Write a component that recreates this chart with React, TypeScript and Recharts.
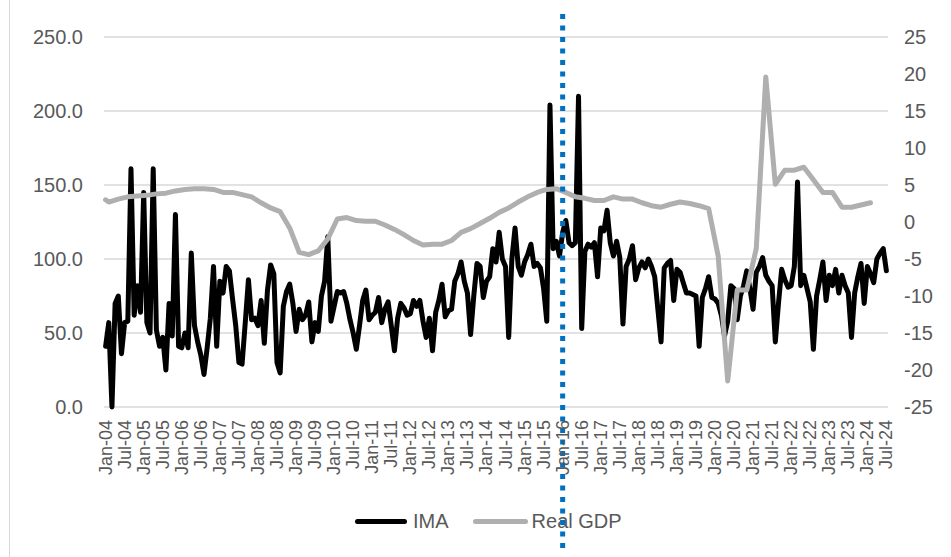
import { LineChart, Line, XAxis, YAxis, CartesianGrid, ReferenceLine } from "recharts";

// Monthly categories, Jan-04 .. Jul-24
const MONTH_NAMES = ["Jan", "Feb", "Mar", "Apr", "May", "Jun", "Jul", "Aug", "Sep", "Oct", "Nov", "Dec"];
const FIRST_YEAR = 4;
const MONTH_COUNT = 247;
const months = Array.from(
  { length: MONTH_COUNT },
  (_, i) => `${MONTH_NAMES[i % 12]}-${String(FIRST_YEAR + Math.floor(i / 12)).padStart(2, "0")}`
);

// IMA, monthly (left axis)
const ima = [
  41, 57, 0, 70, 75, 36, 57, 58, 161, 62,
  82, 64, 145, 57, 50, 161, 52, 41, 47, 25,
  70, 48, 130, 41, 40, 50, 40, 104, 55, 44,
  35, 22, 40, 60, 95, 41, 85, 77, 95, 92,
  73, 55, 30, 29, 57, 86, 59, 60, 55, 72,
  43, 79, 96, 90, 30, 23, 68, 78, 83, 70,
  51, 66, 59, 62, 71, 44, 57, 51, 75, 85,
  115, 58, 68, 78, 77, 78, 70, 59, 50, 39,
  55, 72, 79, 59, 62, 64, 74, 57, 66, 71,
  55, 38, 60, 70, 67, 62, 63, 72, 68, 72,
  58, 47, 60, 38, 64, 72, 83, 61, 65, 66,
  85, 90, 98, 85, 77, 49, 75, 97, 95, 74,
  85, 88, 107, 98, 118, 100, 95, 47, 100, 121,
  95, 89, 98, 103, 110, 95, 97, 94, 80, 58,
  204, 107, 112, 102, 118, 126, 111, 109, 111, 210,
  53, 105, 110, 108, 111, 88, 121, 119, 133, 111,
  102, 112, 101, 56, 95, 100, 109, 86, 94, 98,
  94, 100, 95, 88, 66, 44, 94, 97, 99, 72,
  93, 91, 84, 77, 77, 76, 75, 41, 74, 80,
  88, 74, 73, 70, 62, 48, 58, 82, 80, 59,
  75, 82, 92, 80, 66, 91, 95, 101, 89, 85,
  82, 44, 70, 93, 86, 81, 82, 95, 152, 82,
  89, 80, 71, 39, 75, 86, 98, 72, 89, 82,
  93, 77, 89, 82, 77, 47, 77, 88, 97, 70,
  95, 90, 84, 100, 104, 107, 92,
];

// Real GDP growth (right axis): Jan-04, then one value per quarter (Feb, May, Aug, Nov)
const gdpFirst = 3.0;
const gdpQuarterly = [
  2.7, 3.1, 3.4, 3.5, 3.6, 3.8, 3.9, 4.2, 4.4, 4.5,
  4.5, 4.4, 4.0, 4.0, 3.7, 3.4, 2.6, 1.9, 1.4, -0.8,
  -4.1, -4.4, -3.9, -2.3, 0.4, 0.6, 0.2, 0.1, 0.1, -0.4,
  -1.0, -1.7, -2.5, -3.1, -3.0, -3.0, -2.5, -1.4, -0.9, -0.2,
  0.5, 1.3, 1.9, 2.7, 3.4, 4.0, 4.4, 4.5, 4.0, 3.4,
  3.2, 2.9, 2.9, 3.4, 3.1, 3.1, 2.6, 2.2, 2.0, 2.4,
  2.7, 2.5, 2.2, 1.8, -4.6, -21.5, -9.2, -9.2, -3.6, 19.6,
  5.1, 7.0, 7.0, 7.4, 5.7, 4.0, 4.0, 2.0, 2.0, 2.3,
  2.6,
];

const leftTicks = [0, 50, 100, 150, 200, 250];
const rightTicks = [-25, -20, -15, -10, -5, 0, 5, 10, 15, 20, 25];
const markerMonth = "Jan-16";

const data = months.map((month, i) => {
  let gdp: number | null = null;
  if (i === 0) gdp = gdpFirst;
  else if ((i - 1) % 3 === 0 && gdpQuarterly[(i - 1) / 3] !== undefined) gdp = gdpQuarterly[(i - 1) / 3];
  return { month, ima: ima[i], gdp };
});

const FONT = "'Liberation Sans', Arial, sans-serif";
const TEXT = "#595959";

function MonthTick({ x, y, payload }: { x?: number; y?: number; payload?: { value: string } }) {
  return (
    <text
      x={x}
      y={y}
      transform={`rotate(-90, ${x}, ${y})`}
      textAnchor="end"
      dominantBaseline="central"
      fontSize={18}
      fontFamily={FONT}
      fill={TEXT}
    >
      {payload?.value}
    </text>
  );
}

// dotted marker runs past the plot area, over the axis labels and legend
function DottedMarker(props: any) {
  const top = Math.min(props.y1, props.y2);
  const bottom = Math.max(props.y1, props.y2);
  return (
    <line
      x1={props.x1}
      x2={props.x2}
      y1={top - 23}
      y2={bottom + 146}
      stroke="#0070C0"
      strokeWidth={5}
      strokeDasharray="5 6.5"
    />
  );
}

export default function App() {
  return (
    <div style={{ position: "absolute", left: 0, top: 0, width: 951, height: 557, background: "#fff" }}>
      <div style={{ position: "absolute", left: 9, top: 0, width: 1, height: 557, background: "#d9d9d9" }} />

      {/* Legend, under the chart svg so the marker draws over it */}
      <div
        style={{
          position: "absolute",
          left: 355,
          top: 510,
          display: "flex",
          alignItems: "center",
          fontFamily: FONT,
          fontSize: 20,
          color: TEXT,
        }}
      >
        <span style={{ display: "inline-block", width: 52, height: 5, background: "#000", borderRadius: 3 }} />
        <span style={{ marginLeft: 6 }}>IMA</span>
        <span
          style={{ display: "inline-block", width: 55, height: 5, background: "#afafaf", borderRadius: 3, marginLeft: 24 }}
        />
        <span style={{ marginLeft: 4 }}>Real GDP</span>
      </div>

      <div style={{ position: "absolute", left: 0, top: 0 }}>
        <LineChart width={951} height={557} data={data} margin={{ top: 37, right: 0, bottom: 0, left: 0 }}>
          <CartesianGrid yAxisId="left" vertical={false} stroke="#d9d9d9" strokeWidth={1.5} />
          <XAxis
            dataKey="month"
            interval={5}
            height={150}
            tick={<MonthTick />}
            tickSize={0}
            tickMargin={13}
            tickLine={false}
            axisLine={false}
            padding={{ left: 1.6, right: 1.6 }}
          />
          <YAxis
            yAxisId="left"
            width={104}
            domain={[0, 250]}
            ticks={leftTicks}
            tickFormatter={(v: number) => v.toFixed(1)}
            tick={{ fill: TEXT, fontSize: 20, fontFamily: FONT }}
            tickSize={0}
            tickMargin={21}
            tickLine={false}
            axisLine={false}
          />
          <YAxis
            yAxisId="right"
            orientation="right"
            width={63}
            domain={[-25, 25]}
            ticks={rightTicks}
            tick={{ fill: TEXT, fontSize: 20, fontFamily: FONT }}
            tickSize={0}
            tickMargin={16}
            tickLine={false}
            axisLine={false}
          />
          <Line
            yAxisId="left"
            dataKey="ima"
            type="linear"
            stroke="#000"
            strokeWidth={5}
            strokeLinejoin="round"
            strokeLinecap="round"
            dot={false}
            activeDot={false}
            isAnimationActive={false}
          />
          <Line
            yAxisId="right"
            dataKey="gdp"
            type="linear"
            stroke="#afafaf"
            strokeWidth={5}
            strokeLinejoin="round"
            strokeLinecap="round"
            connectNulls
            dot={false}
            activeDot={false}
            isAnimationActive={false}
          />
          <ReferenceLine yAxisId="left" x={markerMonth} shape={DottedMarker} />
        </LineChart>
      </div>
    </div>
  );
}
